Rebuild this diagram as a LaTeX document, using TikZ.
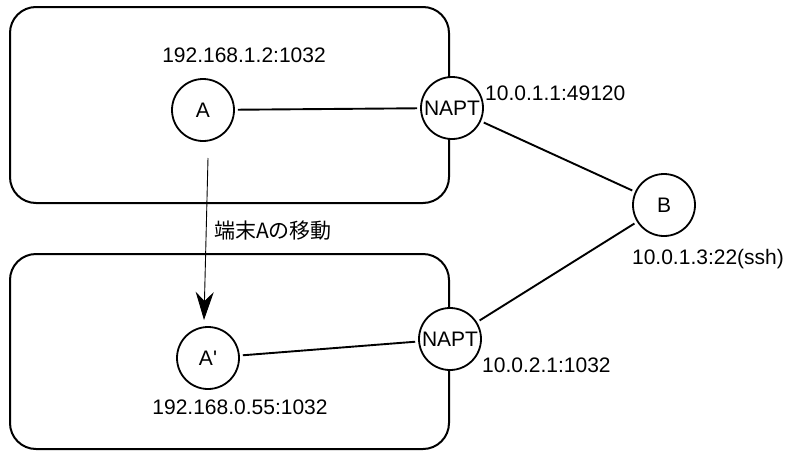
\documentclass[tikz,border=0pt]{standalone}
\usepackage{fontspec}
\setmainfont{Liberation Sans}
\newfontfamily\jpfont{Noto Sans CJK JP}
\usetikzlibrary{arrows.meta}
\begin{document}
\begin{tikzpicture}[x=1pt,y=-1pt,
  net/.style={draw=black,line width=2pt,rounded corners=26pt},
  host/.style={circle,draw=black,fill=white,line width=1.8pt,minimum size=62pt,inner sep=0pt,font=\fontsize{21}{25}\selectfont},
  link/.style={draw=black,line width=1.9pt,shorten >=3pt,shorten <=3pt},
  move/.style={draw=black,line width=0.9pt,-{Stealth[length=28pt,width=18pt,inset=9pt]}},
  lbl/.style={inner sep=0pt,font=\fontsize{21}{25}\selectfont}]
\useasboundingbox (0,0) rectangle (787,450);

% two private networks
\draw[net] (10,7) rectangle (449,203);
\draw[net] (10,254) rectangle (449,449);

% hosts and routers
\node[host] (A)  at (203,110) {A};
\node[host] (N1) at (452,108) {NAPT};
\node[host] (B)  at (664,205) {B};
\node[host] (A2) at (208,358) {A\textquotesingle};
\node[host] (N2) at (450,339) {NAPT};

% links
\draw[link] (A) -- (N1);
\draw[link] (N1) -- (B);
\draw[link] (B) -- (N2);
\draw[link] (A2) -- (N2);

% movement of terminal A
\coordinate (mvS) at (208,158);
\coordinate (mvE) at (204,320);
\draw[move] (mvS) -- (mvE);
\node[lbl,anchor=west] (mvL) at (214,231) {\jpfont 端末Aの移動};

% address labels
\node[lbl] (la)  at (244,55) {192.168.1.2:1032};
\node[lbl,anchor=west] (ln1) at (485,93) {10.0.1.1:49120};
\node[lbl] (lb)  at (708,259) {10.0.1.3:22(ssh)};
\node[lbl,anchor=west] (ln2) at (482,365) {10.0.2.1:1032};
\node[lbl] (la2) at (240,407) {192.168.0.55:1032};
\end{tikzpicture}
\end{document}
